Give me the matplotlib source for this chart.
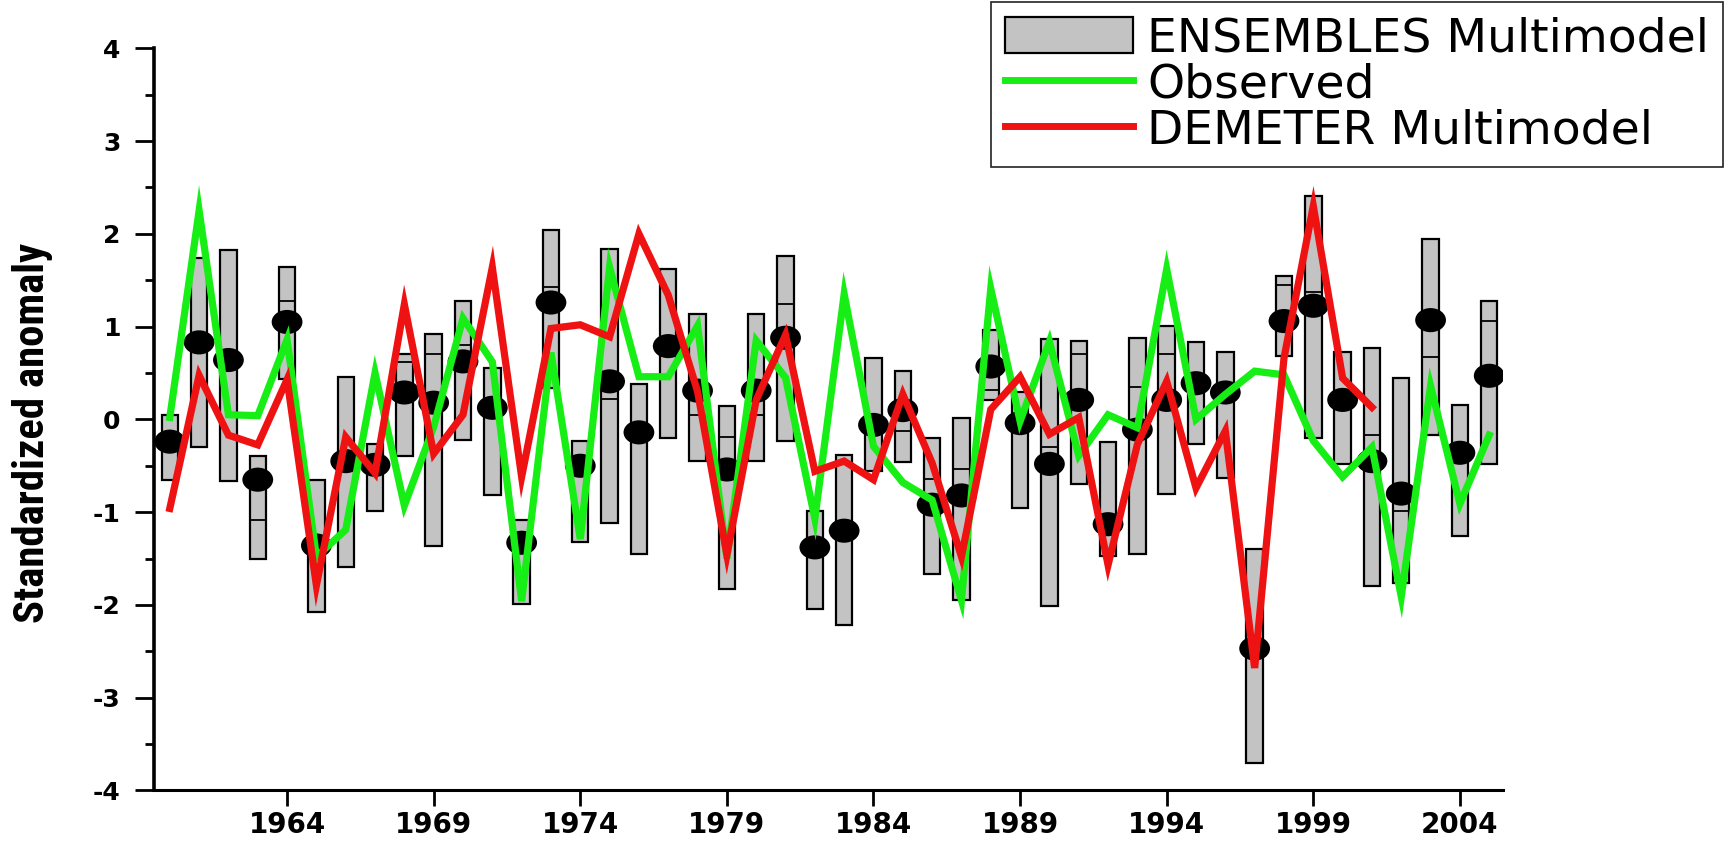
import numpy as np
import matplotlib
matplotlib.use("Agg")
import matplotlib.pyplot as plt
from matplotlib import font_manager
from matplotlib.patches import Ellipse, Patch
from matplotlib.lines import Line2D

plt.rcParams['axes.unicode_minus'] = False

years = np.arange(1960, 2006)

# ENSEMBLES multimodel spread (box top / bottom), median line and ensemble mean
ens_top = [0.05, 1.74, 1.83, -0.39, 1.64, -0.65, 0.46, -0.26, 0.71, 0.92,
           1.28, 0.55, -1.08, 2.04, -0.23, 1.84, 0.38, 1.62, 1.14, 0.14,
           1.14, 1.76, -0.99, -0.38, 0.66, 0.52, -0.20, 0.02, 0.96, 0.29,
           0.87, 0.85, -0.24, 0.875, 1.01, 0.83, 0.73, -1.40, 1.55, 2.41,
           0.73, 0.77, 0.445, 1.94, 0.15, 1.28]
ens_bot = [-0.65, -0.30, -0.66, -1.51, 0.43, -2.08, -1.59, -0.99, -0.39, -1.37,
           -0.22, -0.82, -1.99, 0.34, -1.32, -1.12, -1.45, -0.20, -0.45, -1.83,
           -0.45, -0.23, -2.04, -2.22, -0.56, -0.46, -1.67, -1.95, 0.21, -0.96,
           -2.01, -0.70, -1.47, -1.45, -0.80, -0.26, -0.63, -3.70, 0.68, -0.20,
           -0.48, -1.80, -1.76, -0.165, -1.26, -0.48]
ens_med = [-0.24, 0.83, 0.64, -1.09, 1.28, -1.36, -0.45, -0.49, 0.62, 0.71,
           0.80, 0.125, -1.33, 1.43, -0.50, 0.225, -0.14, 0.79, 0.05, -0.19,
           0.05, 1.24, -1.38, -1.20, -0.06, -0.13, -0.64, -0.54, 0.32, -0.04,
           -0.30, 0.71, -1.13, 0.35, 0.71, 0.39, 0.29, -2.47, 1.45, 1.375,
           0.21, -0.17, -0.99, 0.67, -0.36, 1.06]
ens_mean = [-0.24, 0.83, 0.64, -0.65, 1.05, -1.36, -0.45, -0.49, 0.29, 0.18,
            0.625, 0.125, -1.33, 1.26, -0.50, 0.41, -0.14, 0.79, 0.31, -0.54,
            0.31, 0.88, -1.38, -1.20, -0.06, 0.10, -0.92, -0.82, 0.57, -0.04,
            -0.48, 0.21, -1.13, -0.11, 0.21, 0.39, 0.29, -2.47, 1.06, 1.225,
            0.21, -0.45, -0.80, 1.07, -0.36, 0.47]

observed = [0.02, 2.25, 0.05, 0.04, 0.86, -1.48, -1.19, 0.50, -0.93, -0.08,
            1.09, 0.62, -1.96, 0.72, -1.29, 1.64, 0.46, 0.46, 1.01, -1.50,
            0.85, 0.45, -1.07, 1.35, -0.29, -0.68, -0.87, -1.95, 1.41, -0.02,
            0.84, -0.39, 0.05, -0.09, 1.62, 0.00, 0.27, 0.52, 0.48, -0.23,
            -0.62, -0.30, -1.91, 0.36, -0.91, -0.17]

demeter_years = np.arange(1960, 2002)
demeter = [-0.96, 0.475, -0.17, -0.275, 0.43, -1.79, -0.19, -0.58, 1.24, -0.37,
           0.05, 1.64, -0.62, 0.98, 1.02, 0.89, 2.00, 1.34, 0.30, -1.46,
           0.21, 0.91, -0.56, -0.45, -0.65, 0.27, -0.47, -1.48, 0.107, 0.46,
           -0.16, 0.02, -1.57, -0.27, 0.41, -0.74, -0.125, -2.68, 0.66, 2.30,
           0.445, 0.13]

xticks = [1964, 1969, 1974, 1979, 1984, 1989, 1994, 1999, 2004]

green = '#16ee16'
red = '#ee1212'
grey = '#c3c3c3'

fig = plt.figure(figsize=(17.26, 8.44), dpi=100)
ax = fig.add_axes([0.0892, 0.0635, 0.7816, 0.8792])

top = np.array(ens_top)
bot = np.array(ens_bot)
ax.bar(years, top - bot, bottom=bot, width=0.56, color=grey,
       edgecolor='black', linewidth=1.6, zorder=2)
ax.hlines(ens_med, years - 0.28, years + 0.28, color='black', linewidth=1.3, zorder=3)
for yr, m in zip(years, ens_mean):
    ax.add_patch(Ellipse((yr, m), 1.05, 0.26, facecolor='black', edgecolor='none', zorder=4))

ax.plot(years, observed, color=green, linewidth=5.2, zorder=5, solid_joinstyle='miter')
ax.plot(demeter_years, demeter, color=red, linewidth=5.2, zorder=6, solid_joinstyle='miter')

ax.set_xlim(1959.46, 2005.47)
ax.set_ylim(-4, 4)
ax.set_xticks(xticks)
ax.set_yticks(np.arange(-4, 5, 1))
ax.set_yticks(np.arange(-3.5, 4, 1), minor=True)

for s in ['top', 'right']:
    ax.spines[s].set_visible(False)
ax.spines['left'].set_linewidth(2.6)
ax.spines['bottom'].set_linewidth(2.2)

ax.tick_params(axis='y', which='major', direction='out', length=14, width=2, pad=10)
ax.tick_params(axis='y', which='minor', direction='out', length=6.5, width=2)
ax.tick_params(axis='x', which='major', direction='out', length=11.5, width=2, pad=3)
for lab in ax.get_yticklabels():
    lab.set_fontfamily('DejaVu Sans')
    lab.set_fontweight('bold')
    lab.set_fontsize(18)
for lab in ax.get_xticklabels():
    lab.set_fontfamily('DejaVu Sans')
    lab.set_fontweight('bold')
    lab.set_fontsize(20)

# condensed bold face for the axis title, whichever narrow family is installed
avail = {f.name for f in font_manager.fontManager.ttflist}
narrow = next((n for n in ['Liberation Sans Narrow', 'Arial Narrow', 'Roboto Condensed',
                           'DejaVu Sans Condensed', 'Open Sans Condensed'] if n in avail),
              'DejaVu Sans')
ylab = fig.text(33 / 1726, 0.487, 'Standardized anomaly', rotation=90, ha='center',
                va='center', fontsize=30, fontweight='bold', family=narrow,
                fontstretch='condensed')
fig.canvas.draw()
h = ylab.get_window_extent(fig.canvas.get_renderer()).height
ylab.set_fontsize(30 * 380 / h)

handles = [Patch(facecolor=grey, edgecolor='black', linewidth=1.6),
           Line2D([], [], color=green, linewidth=5),
           Line2D([], [], color=red, linewidth=5)]
labels = ['ENSEMBLES Multimodel', 'Observed', 'DEMETER Multimodel']
leg = ax.legend(handles, labels, loc='upper right',
                bbox_to_anchor=(1723 / 1726, 1 - 2 / 844), bbox_transform=fig.transFigure,
                borderaxespad=0, fancybox=False, framealpha=1, edgecolor='#222222',
                prop={'family': 'DejaVu Sans', 'size': 34}, handlelength=2.7,
                handleheight=0.8, handletextpad=0.3, borderpad=0.3, labelspacing=0.02)
leg.get_frame().set_linewidth(1.2)

fig.savefig('out.png', dpi=100)
